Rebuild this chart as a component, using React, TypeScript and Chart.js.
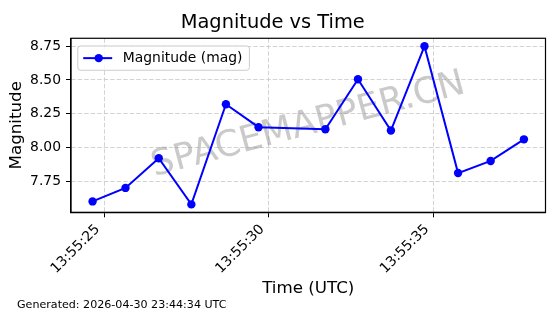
import React, { useEffect, useRef } from "react";
import { Chart, registerables } from "chart.js";

Chart.register(...registerables);

// ---- data ----
const TITLE = "Magnitude vs Time";
const X_LABEL = "Time (UTC)";
const Y_LABEL = "Magnitude";
const SERIES_LABEL = "Magnitude (mag)";
const WATERMARK = "SPACEMAPPER.CN";
const FOOTER = "Generated: 2026-04-30 23:44:34 UTC";
const TIME_PREFIX = "13:55";
// seconds after 13:55:00 UTC
const TIME_SECONDS = [24.65, 25.65, 26.66, 27.65, 28.7, 29.69, 31.72, 32.71, 33.71, 34.73, 35.75, 36.74, 37.75];
const MAGNITUDES = [7.6, 7.7, 7.92, 7.578, 8.32, 8.15, 8.135, 8.505, 8.125, 8.75, 7.81, 7.9, 8.06];
const X_TICKS = [25, 30, 35];
const Y_TICKS = [7.75, 8.0, 8.25, 8.5, 8.75];

const FONT = "'DejaVu Sans', sans-serif";
const LINE_COLOR = "#0000ff";

function paddedRange(values: number[]): [number, number] {
  const lo = Math.min(...values);
  const hi = Math.max(...values);
  const m = (hi - lo) * 0.05;
  return [lo - m, hi + m];
}

const whiteBg = {
  id: "whiteBg",
  beforeDraw(chart: any) {
    const { ctx, width, height } = chart;
    ctx.save();
    ctx.fillStyle = "#ffffff";
    ctx.fillRect(0, 0, width, height);
    ctx.restore();
  },
};

const watermark = {
  id: "watermark",
  beforeDatasetsDraw(chart: any) {
    const { ctx, chartArea } = chart;
    const cx = (chartArea.left + chartArea.right) / 2;
    const cy = (chartArea.top + chartArea.bottom) / 2;
    ctx.save();
    ctx.translate(cx, cy);
    ctx.rotate((-15 * Math.PI) / 180);
    ctx.font = `36px ${FONT}`;
    ctx.fillStyle = "rgba(128,128,128,0.42)";
    ctx.textAlign = "center";
    ctx.textBaseline = "middle";
    ctx.fillText(WATERMARK, 0, 0);
    ctx.restore();
  },
};

const frameAndLegend = {
  id: "frameAndLegend",
  afterDatasetsDraw(chart: any) {
    const { ctx, chartArea } = chart;
    ctx.save();
    // axes frame
    ctx.strokeStyle = "#000000";
    ctx.lineWidth = 1.2;
    ctx.strokeRect(chartArea.left, chartArea.top, chartArea.right - chartArea.left, chartArea.bottom - chartArea.top);

    // legend
    const label = chart.data.datasets[0].label as string;
    ctx.font = `13.9px ${FONT}`;
    const tw = ctx.measureText(label).width;
    const x0 = chartArea.left + 6.8;
    const y0 = chartArea.top + 7.7;
    const textX = x0 + 45;
    const w = textX + tw + 6.9 - x0;
    const h = 24.3;
    const r = 2.8;
    ctx.beginPath();
    ctx.moveTo(x0 + r, y0);
    ctx.lineTo(x0 + w - r, y0);
    ctx.quadraticCurveTo(x0 + w, y0, x0 + w, y0 + r);
    ctx.lineTo(x0 + w, y0 + h - r);
    ctx.quadraticCurveTo(x0 + w, y0 + h, x0 + w - r, y0 + h);
    ctx.lineTo(x0 + r, y0 + h);
    ctx.quadraticCurveTo(x0, y0 + h, x0, y0 + h - r);
    ctx.lineTo(x0, y0 + r);
    ctx.quadraticCurveTo(x0, y0, x0 + r, y0);
    ctx.closePath();
    ctx.fillStyle = "rgba(255,255,255,0.8)";
    ctx.fill();
    ctx.strokeStyle = "#cccccc";
    ctx.lineWidth = 1;
    ctx.stroke();

    const my = y0 + h / 2;
    ctx.strokeStyle = LINE_COLOR;
    ctx.lineWidth = 2;
    ctx.beginPath();
    ctx.moveTo(x0 + 5.4, my);
    ctx.lineTo(x0 + 34.4, my);
    ctx.stroke();
    ctx.fillStyle = LINE_COLOR;
    ctx.beginPath();
    ctx.arc(x0 + 20.9, my, 4.2, 0, Math.PI * 2);
    ctx.fill();

    ctx.fillStyle = "#000000";
    ctx.textAlign = "left";
    ctx.textBaseline = "middle";
    ctx.fillText(label, textX, my);
    ctx.restore();
  },
};

const footer = {
  id: "footer",
  afterDraw(chart: any) {
    const { ctx } = chart;
    ctx.save();
    ctx.font = `11.1px ${FONT}`;
    ctx.fillStyle = "#000000";
    ctx.textAlign = "left";
    ctx.textBaseline = "middle";
    ctx.fillText(FOOTER, 17, 305);
    ctx.restore();
  },
};

const GRID = {
  color: "#c8c8c8",
  lineWidth: 0.8,
  tickColor: "#000000",
  tickLength: 5,
  tickWidth: 1,
  tickBorderDash: [],
};

const BORDER = { display: true, color: "#000000", width: 1.2, dash: [4.5, 2] };

export default function App() {
  const canvasRef = useRef<HTMLCanvasElement | null>(null);

  useEffect(() => {
    if (!canvasRef.current) return;
    const [xMin, xMax] = paddedRange(TIME_SECONDS);
    const [yMin, yMax] = paddedRange(MAGNITUDES);
    const points = TIME_SECONDS.map((t, i) => ({ x: t, y: MAGNITUDES[i] }));

    const chart = new Chart(canvasRef.current, {
      type: "line",
      data: {
        datasets: [
          {
            label: SERIES_LABEL,
            data: points,
            borderColor: LINE_COLOR,
            backgroundColor: LINE_COLOR,
            borderWidth: 2,
            pointRadius: 4.2,
            pointHoverRadius: 4.2,
            pointBorderWidth: 0,
            pointBackgroundColor: LINE_COLOR,
            tension: 0,
            fill: false,
          },
        ],
      },
      options: {
        animation: false,
        responsive: false,
        devicePixelRatio: 1,
        events: [],
        layout: { padding: { left: 0, right: 14.5, top: 0, bottom: 0 } },
        plugins: {
          legend: { display: false },
          tooltip: { enabled: false },
          title: {
            display: true,
            text: TITLE,
            color: "#000000",
            font: { family: FONT, size: 19.4, weight: "normal" },
            padding: { top: 11.35, bottom: 3.65 },
          },
        },
        scales: {
          x: {
            type: "linear",
            min: xMin,
            max: xMax,
            afterBuildTicks: (s: any) => {
              s.ticks = X_TICKS.map((v) => ({ value: v }));
            },
            afterFit: (s: any) => {
              s.height = 101.7;
            },
            ticks: {
              autoSkip: false,
              maxRotation: 45,
              minRotation: 45,
              padding: 4,
              labelOffset: -6.5,
              color: "#000000",
              font: { family: FONT, size: 13.9 },
              callback: (v: any) => `${TIME_PREFIX}:${String(Math.round(Number(v))).padStart(2, "0")}`,
            },
            grid: GRID,
            border: BORDER,
            title: {
              display: true,
              text: X_LABEL,
              color: "#000000",
              font: { family: FONT, size: 16.7 },
              padding: { top: 0, bottom: 15.5 },
            },
          },
          y: {
            type: "linear",
            min: yMin,
            max: yMax,
            afterBuildTicks: (s: any) => {
              s.ticks = Y_TICKS.map((v) => ({ value: v }));
            },
            afterFit: (s: any) => {
              s.width = 71;
            },
            ticks: {
              padding: 5,
              color: "#000000",
              font: { family: FONT, size: 13.9 },
              callback: (v: any) => Number(v).toFixed(2),
            },
            grid: GRID,
            border: BORDER,
            title: {
              display: true,
              text: Y_LABEL,
              color: "#000000",
              font: { family: FONT, size: 16.7 },
              padding: { top: 6.5, bottom: 0 },
            },
          },
        },
      },
      plugins: [whiteBg, watermark, frameAndLegend, footer],
    } as any);

    return () => chart.destroy();
  }, []);

  return (
    <div style={{ position: "fixed", left: 0, top: 0, width: 560, height: 314, background: "#fff" }}>
      <canvas ref={canvasRef} width={560} height={314} style={{ display: "block", width: 560, height: 314 }} />
    </div>
  );
}
